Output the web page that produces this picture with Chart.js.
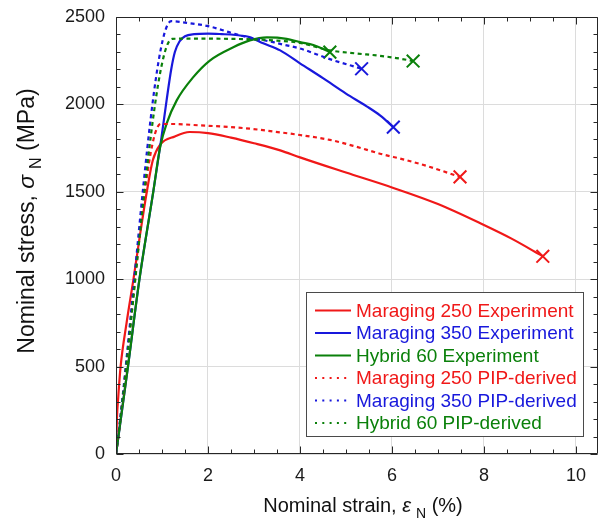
<!DOCTYPE html>
<html>
<head>
<meta charset="utf-8">
<script src="https://cdn.jsdelivr.net/npm/chart.js@4.4.1/dist/chart.umd.min.js"></script>
<style>
  html, body { margin: 0; padding: 0; background: #ffffff; }
  #wrap { width: 598px; height: 521px; }
</style>
</head>
<body>
<div id="wrap"><canvas id="c" width="598" height="521"></canvas></div>
<script>
// Nominal strain (%) and nominal stress (MPa) for each tensile curve.
const m250ExpStrain = [0, 0.02, 0.05, 0.10, 0.23, 0.38, 0.52, 0.67, 0.80, 0.96, 1.28, 1.60, 2.00, 2.50, 3.00, 3.57, 4.00, 5.00, 6.00, 7.00, 8.00, 8.60, 9.28];
const m250ExpStress = [0, 200, 330, 500, 750, 1000, 1250, 1500, 1680, 1770, 1817, 1842, 1836, 1810, 1778, 1737, 1697, 1610, 1525, 1430, 1310, 1232, 1131];

const m350ExpStrain = [0, 0.26, 0.51, 0.81, 0.99, 1.10, 1.20, 1.28, 1.38, 1.50, 1.70, 2.00, 2.30, 2.60, 2.90, 3.20, 3.57, 4.00, 4.50, 5.00, 5.45, 5.74, 6.03];
const m350ExpStress = [0, 500, 1000, 1500, 1813, 2023, 2200, 2300, 2360, 2390, 2402, 2405, 2402, 2397, 2385, 2350, 2309, 2235, 2150, 2062, 1989, 1937, 1870];

const h60ExpStrain = [0, 0.26, 0.51, 0.81, 0.96, 1.10, 1.32, 1.68, 2.04, 2.55, 2.91, 3.28, 3.71, 4.00, 4.29, 4.65];
const h60ExpStress = [0, 500, 1000, 1500, 1756, 1890, 2023, 2156, 2251, 2327, 2366, 2383, 2375, 2356, 2340, 2299];

const m250PipStrain = [0, 0.97, 1.20, 1.83, 2.50, 2.91, 3.57, 4.00, 4.65, 5.20, 5.74, 6.30, 6.83, 7.48];
const m250PipStress = [0, 1888, 1888, 1880, 1870, 1861, 1840, 1825, 1797, 1760, 1718, 1682, 1642, 1585];

const m350PipStrain = [0, 1.20, 1.50, 2.00, 2.50, 2.84, 3.42, 3.57, 4.00, 4.65, 5.34];
const m350PipStress = [0, 2476, 2468, 2448, 2410, 2385, 2356, 2346, 2320, 2259, 2204];

const h60PipStrain = [0, 1.22, 1.50, 2.00, 2.50, 3.00, 3.50, 4.00, 4.65, 5.20, 5.74, 6.10, 6.46];
const h60PipStress = [0, 2375, 2376, 2376, 2375, 2372, 2365, 2352, 2309, 2292, 2278, 2265, 2248];

const seriesNames = [
  'Maraging 250 Experiment',
  'Maraging 350 Experiment',
  'Hybrid 60 Experiment',
  'Maraging 250 PIP-derived',
  'Maraging 350 PIP-derived',
  'Hybrid 60 PIP-derived'
];
const seriesStrain = [m250ExpStrain, m350ExpStrain, h60ExpStrain, m250PipStrain, m350PipStrain, h60PipStrain];
const seriesStress = [m250ExpStress, m350ExpStress, h60ExpStress, m250PipStress, m350PipStress, h60PipStress];

const xTickValues = [0, 2, 4, 6, 8, 10];
const yTickValues = [0, 500, 1000, 1500, 2000, 2500];

const RED = 'rgb(240,24,24)';
const BLUE = 'rgb(24,24,220)';
const GREEN = 'rgb(10,128,10)';
const seriesColors = [RED, BLUE, GREEN, RED, BLUE, GREEN];
const seriesDotted = [false, false, false, true, true, true];

const FONT = '"Liberation Sans", Arial, Helvetica, sans-serif';
Chart.defaults.font.family = FONT;

const datasets = seriesNames.map((name, i) => ({
  label: name,
  data: seriesStrain[i].map((x, k) => ({ x: x, y: seriesStress[i][k] })),
  showLine: true,
  borderColor: seriesColors[i],
  backgroundColor: seriesColors[i],
  borderWidth: 2.2,
  borderDash: seriesDotted[i] ? [4, 3.5] : [],
  cubicInterpolationMode: 'monotone',
  // fracture point: an X at the last sample of each curve
  pointStyle: 'crossRot',
  pointRadius: ctx => (ctx.dataIndex === ctx.dataset.data.length - 1 ? 9 : 0),
  pointHoverRadius: 0,
  pointBorderWidth: 2,
  pointBorderColor: seriesColors[i],
  order: seriesNames.length - i
}));

// Frame, inward major/minor ticks on all four sides
const framePlugin = {
  id: 'frame',
  afterDatasetsDraw(chart) {
    const { ctx, chartArea: a, scales } = chart;
    const xs = scales.x, ys = scales.y;
    ctx.save();
    ctx.strokeStyle = '#262626';
    ctx.lineWidth = 1;
    const L = Math.round(a.left) + 0.5, R = Math.round(a.right) - 0.5;
    const T = Math.round(a.top) + 0.5, B = Math.round(a.bottom) - 0.5;
    ctx.beginPath();
    ctx.moveTo(L, T); ctx.lineTo(R, T); ctx.lineTo(R, B); ctx.lineTo(L, B); ctx.closePath();
    ctx.stroke();
    ctx.beginPath();
    for (let v = 0; v <= xs.max + 1e-9; v += 0.5) {
      const major = Math.abs(v / 2 - Math.round(v / 2)) < 1e-6;
      const len = major ? 7 : 4;
      const px = Math.round(xs.getPixelForValue(v)) + 0.5;
      ctx.moveTo(px, B); ctx.lineTo(px, B - len);
      ctx.moveTo(px, T); ctx.lineTo(px, T + len);
    }
    for (let v = 0; v <= ys.max + 1e-9; v += 100) {
      const major = v % 500 === 0;
      const len = major ? 7 : 4;
      const py = Math.round(ys.getPixelForValue(v)) + 0.5;
      ctx.moveTo(L, py); ctx.lineTo(L + len, py);
      ctx.moveTo(R, py); ctx.lineTo(R - len, py);
    }
    ctx.stroke();
    ctx.restore();
  }
};

function drawRuns(ctx, runs, x, y) {
  let total = 0;
  runs.forEach(r => { ctx.font = r.font; r.w = ctx.measureText(r.text).width + (r.gap || 0); total += r.w; });
  let cx = x - total / 2;
  runs.forEach(r => {
    ctx.font = r.font;
    ctx.fillText(r.text, cx, y + (r.dy || 0));
    cx += r.w;
  });
}

// Axis titles with Greek symbol and subscript
const titlePlugin = {
  id: 'axisTitles',
  afterDraw(chart) {
    const { ctx } = chart;
    ctx.save();
    ctx.fillStyle = '#111111';
    ctx.textBaseline = 'alphabetic';
    ctx.textAlign = 'left';
    drawRuns(ctx, [
      { text: 'Nominal strain, ', font: '20px ' + FONT },
      { text: 'ε', font: 'italic 20px ' + FONT, gap: 5 },
      { text: 'N', font: '14px ' + FONT, dy: 6 },
      { text: ' (%)', font: '20px ' + FONT }
    ], 363, 512);
    ctx.translate(34, 221);
    ctx.rotate(-Math.PI / 2);
    drawRuns(ctx, [
      { text: 'Nominal stress, ', font: '23px ' + FONT },
      { text: 'σ', font: 'italic 23px ' + FONT, gap: 6 },
      { text: 'N', font: '16px ' + FONT, dy: 7 },
      { text: ' (MPa)', font: '23px ' + FONT }
    ], 0, 0);
    ctx.restore();
  }
};

// Boxed legend inside the plot, text coloured like its curve
const legendPlugin = {
  id: 'boxLegend',
  afterDraw(chart) {
    const { ctx } = chart;
    const box = { x: 306.5, y: 292.5, w: 277, h: 144 };
    ctx.save();
    ctx.fillStyle = '#ffffff';
    ctx.fillRect(box.x, box.y, box.w, box.h);
    ctx.strokeStyle = '#4a4a4a';
    ctx.lineWidth = 1;
    ctx.strokeRect(box.x, box.y, box.w, box.h);
    ctx.font = '19px ' + FONT;
    ctx.textBaseline = 'middle';
    ctx.textAlign = 'left';
    chart.data.datasets.forEach((ds, i) => {
      const cy = 310.5 + i * 22.5;
      ctx.strokeStyle = ds.borderColor;
      ctx.lineWidth = 2;
      ctx.setLineDash(ds.borderDash.length ? [2, 5.3] : []);
      ctx.beginPath();
      ctx.moveTo(315, cy);
      ctx.lineTo(351, cy);
      ctx.stroke();
      ctx.setLineDash([]);
      ctx.fillStyle = ds.borderColor;
      ctx.fillText(ds.label, 356, cy + 1);
    });
    ctx.restore();
  }
};

new Chart(document.getElementById('c'), {
  type: 'scatter',
  data: { datasets: datasets },
  options: {
    responsive: false,
    devicePixelRatio: 1,
    animation: false,
    events: [],
    layout: { autoPadding: false, padding: { top: 17, right: 0, left: 0, bottom: 0 } },
    plugins: { legend: { display: false }, tooltip: { enabled: false } },
    scales: {
      x: {
        type: 'linear',
        min: 0,
        max: 10.48,
        afterBuildTicks: s => { s.ticks = xTickValues.map(v => ({ value: v })); },
        afterFit: s => { s.height = 67; s.paddingLeft = 0; s.paddingRight = 0; },
        ticks: { font: { size: 18, family: FONT }, color: '#1a1a1a', padding: 11, maxRotation: 0, autoSkip: false, callback: v => String(v) },
        grid: { color: '#dcdcdc', lineWidth: 1, drawTicks: false },
        border: { display: false },
        title: { display: false }
      },
      y: {
        type: 'linear',
        min: 0,
        max: 2500,
        afterBuildTicks: s => { s.ticks = yTickValues.map(v => ({ value: v })); },
        afterFit: s => { s.width = 116; s.paddingTop = 0; s.paddingBottom = 0; },
        ticks: { font: { size: 18, family: FONT }, color: '#1a1a1a', padding: 11, autoSkip: false, callback: v => String(v) },
        grid: { color: '#dcdcdc', lineWidth: 1, drawTicks: false },
        border: { display: false },
        title: { display: false }
      }
    }
  },
  plugins: [framePlugin, titlePlugin, legendPlugin]
});
</script>
</body>
</html>
